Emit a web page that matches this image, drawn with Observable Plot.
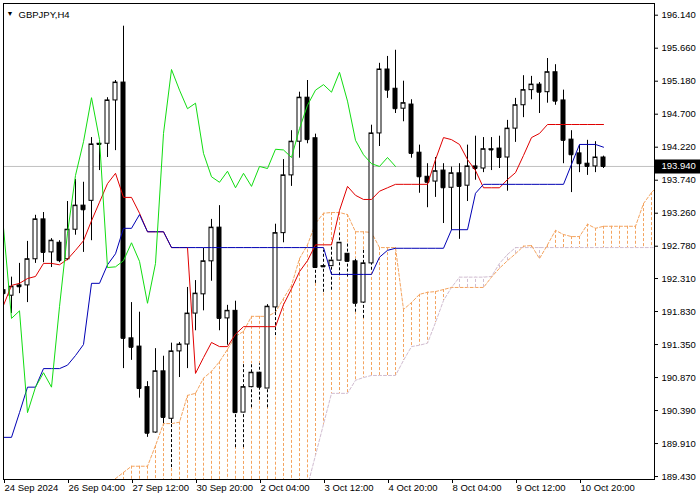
<!DOCTYPE html>
<html><head><meta charset="utf-8">
<script src="https://cdn.jsdelivr.net/npm/d3@7"></script>
<script src="https://cdn.jsdelivr.net/npm/@observablehq/plot@0.6"></script>
<style>
body{margin:0;background:#fff;}
#chart{width:700px;height:500px;}
</style></head><body><div id="chart"></div><script>
// ---- data (GBPJPY H4) ----
const opens = [192.14,192.06,192.21,192.21,192.59,193.17,192.69,192.83,192.59,193.02,
193.37,193.44,194.27,194.27,194.90,195.16,191.44,191.32,190.73,190.07,
190.96,190.27,191.25,191.35,191.80,192.08,192.56,193.05,191.73,191.84,
190.36,190.73,190.94,190.71,191.89,192.97,193.81,194.30,194.94,194.35,
192.49,192.49,192.57,192.67,192.56,191.96,192.53,194.42,195.35,195.07,
194.78,194.84,194.14,193.79,193.72,193.88,193.63,193.84,193.66,193.94,
193.91,194.19,194.20,194.07,194.49,194.83,195.05,195.13,195.02,195.31,
194.90,194.33,194.13,193.98,193.94,194.07];
const highs = [192.57,192.33,192.53,192.85,193.23,193.27,192.89,192.86,193.43,193.75,
193.71,194.36,194.29,194.94,195.19,195.98,191.96,191.82,190.81,191.29,
191.18,191.37,191.38,192.18,192.28,192.75,193.17,193.37,191.92,191.98,
191.07,191.07,191.07,191.93,193.10,194.04,194.46,195.02,195.19,194.41,
192.72,192.79,192.97,192.82,192.60,192.72,194.54,195.44,195.54,195.63,
195.18,194.91,194.25,193.98,194.07,193.98,193.93,193.98,194.25,194.38,
194.36,194.36,194.38,194.61,194.93,195.26,195.25,195.16,195.51,195.42,
195.05,194.46,194.25,194.32,194.30,194.09];
const lows = [191.84,191.80,192.09,191.96,192.53,192.54,192.47,192.54,192.57,192.94,
192.69,192.86,193.88,194.07,194.17,191.00,191.12,190.57,190.00,190.06,
190.20,189.56,190.87,191.00,191.55,191.84,192.27,191.55,191.34,189.85,
189.85,190.43,190.54,190.43,191.48,192.83,193.65,194.06,194.27,192.24,
192.11,192.14,192.35,192.33,191.82,191.73,192.43,194.23,194.93,194.71,
194.59,194.06,193.55,193.34,193.49,193.11,193.01,192.88,193.43,193.74,
193.85,193.88,193.91,193.58,194.29,194.65,194.91,194.71,194.86,194.83,
193.98,193.56,193.85,193.81,193.85,193.91];
const closes = [192.09,192.19,192.19,192.59,193.17,192.69,192.86,192.57,193.02,193.37,
193.31,194.26,194.26,194.90,195.16,191.44,191.31,190.71,190.06,190.96,
190.29,191.25,191.35,191.80,192.09,192.56,193.05,191.73,191.84,190.36,
190.73,190.94,190.73,191.90,192.97,193.81,194.30,194.94,194.33,192.47,
192.48,192.57,192.83,192.56,191.95,192.53,194.42,195.35,195.05,194.78,
194.86,194.13,193.79,193.71,193.87,193.63,193.84,193.65,193.94,193.91,
194.19,194.18,194.07,194.49,194.83,195.05,195.13,195.02,195.31,194.89,
194.32,194.11,193.98,193.94,194.07,193.94];
// Ichimoku lines
const tenkan = [191.92,192.21,192.24,192.31,192.34,192.53,192.53,192.51,192.59,192.72,
192.86,193.15,193.42,193.69,193.84,193.49,193.49,193.26,192.99,192.99,
192.99,192.76,192.76,192.76,190.93,191.16,191.38,191.32,191.32,191.50,
191.61,191.61,191.61,191.61,191.61,191.93,192.16,192.41,192.57,192.80,
192.80,192.80,193.30,193.65,193.52,193.46,193.46,193.58,193.63,193.68,
193.68,193.68,193.68,193.68,194.04,194.36,194.33,194.26,194.04,193.88,
193.63,193.63,193.63,193.75,193.85,194.10,194.36,194.42,194.55,194.55,
194.55,194.55,194.55,194.55,194.55,194.55];
const kijun = [190.00,190.00,190.36,190.73,190.73,191.00,191.00,191.00,191.05,191.19,
191.35,192.24,192.24,192.51,192.67,193.04,193.04,193.24,192.99,192.99,
192.99,192.76,192.76,192.76,192.76,192.76,192.76,192.76,192.76,192.76,
192.76,192.76,192.76,192.76,192.76,192.76,192.76,192.76,192.76,192.76,
192.76,192.37,192.37,192.37,192.37,192.37,192.37,192.62,192.72,192.75,
192.75,192.75,192.75,192.75,192.75,192.75,193.02,193.02,193.02,193.55,
193.68,193.68,193.68,193.68,193.68,193.68,193.68,193.68,193.68,193.68,
193.68,193.97,194.26,194.26,194.26,194.22];
const cloudStart = 14; // first bar index of the cloud arrays
const spanA = [189.40,189.49,189.58,189.58,189.58,189.88,190.20,190.20,190.22,190.61,
190.64,190.86,190.96,191.10,191.28,191.47,191.54,191.76,191.76,191.76,
191.82,192.02,192.21,192.60,192.80,193.11,193.26,193.27,193.27,193.24,
192.99,192.99,192.98,192.76,192.76,192.76,191.86,191.96,192.08,192.11,
192.12,192.15,192.18,192.18,192.18,192.18,192.18,192.33,192.46,192.57,
192.67,192.78,192.79,192.60,192.80,193.01,192.95,192.92,192.92,193.10,
193.04,193.07,193.07,193.07,193.07,193.07,193.40,193.56,193.68];
const spanB = [189.20,189.20,189.20,189.20,189.20,189.20,189.20,189.20,189.20,189.20,
189.20,189.20,189.20,189.20,189.20,189.20,189.20,189.20,189.20,189.20,
189.20,189.20,189.20,189.20,189.29,189.74,190.19,190.64,190.64,190.64,
190.83,190.87,190.90,190.90,190.90,190.90,191.12,191.32,191.34,191.37,
191.67,191.99,192.18,192.33,192.33,192.33,192.33,192.34,192.53,192.66,
192.76,192.76,192.76,192.76,192.76,192.76,192.76,192.76,192.76,192.76,
192.76,192.76,192.76,192.76,192.76,192.76,192.76,192.76,192.76];
const chikouShift = 26;
const yTicks = [196.14,195.66,195.18,194.70,194.22,193.74,193.26,192.78,192.31,191.83,191.35,190.87,190.39,189.91,189.43];
const xTickBars = [0,8,16,24,32,40,48,56,64,72];
const xTickLabels = ["24 Sep 2024","26 Sep 04:00","27 Sep 12:00","30 Sep 20:00","2 Oct 04:00","3 Oct 12:00","4 Oct 20:00","8 Oct 04:00","9 Oct 12:00","10 Oct 20:00"];
const title = "GBPJPY,H4";

// ---- build tables ----
const bars = opens.map((o, i) => ({i, o, h: highs[i], l: lows[i], c: closes[i]}));
const cloud = spanA.map((a, k) => ({i: k + cloudStart, a, b: spanB[k]}));
const cloudUp = cloud.filter(d => d.a >= d.b);
const cloudDown = cloud.filter(d => d.a < d.b);
const cloudByBar = new Map(cloud.map(d => [d.i, d]));
const lineT = tenkan.map((v, i) => ({i, v}));
const lineK = kijun.map((v, i) => ({i, v}));
const lineC = closes.slice(chikouShift).map((v, k) => ({i: k, v}));
const wickSolid = [], wickDashed = [];
for (const d of bars) {
  const cl = cloudByBar.get(d.i);
  if (!cl) { wickSolid.push({i: d.i, y1: d.l, y2: d.h}); continue; }
  const lo = Math.min(cl.a, cl.b), hi = Math.max(cl.a, cl.b);
  const a = Math.max(d.l, lo), b = Math.min(d.h, hi);
  if (a >= b) { wickSolid.push({i: d.i, y1: d.l, y2: d.h}); continue; }
  if (d.l < a) wickSolid.push({i: d.i, y1: d.l, y2: a});
  wickDashed.push({i: d.i, y1: a, y2: b});
  if (b < d.h) wickSolid.push({i: d.i, y1: b, y2: d.h});
}
const bulls = bars.filter(d => d.c > d.o);
const bears = bars.filter(d => d.c <= d.o);
const last = closes[closes.length - 1];
const PX_PER_BAR = 8, PLOT_W = 651, RIGHT_M = 46;
const xMax = PLOT_W / PX_PER_BAR;
const fmt3 = d3.format(".3f");
const font = "'Liberation Sans', Arial, sans-serif";
const SANDY = "#f4a460", THISTLE = "#d0bcd0";

const chart = Plot.plot({
  width: 700, height: 500,
  marginLeft: 3, marginRight: RIGHT_M, marginTop: 3, marginBottom: 21,
  x: {domain: [0, xMax], axis: null},
  y: {domain: [189.387, 196.310], axis: null},
  style: {fontFamily: font, fontSize: "9.5px", background: "white", color: "black", overflow: "visible"},
  marks: [
    // cloud hatch
    Plot.ruleX(cloudUp, {x: "i", y1: "a", y2: "b", stroke: SANDY, strokeWidth: 1, strokeDasharray: "3,2", clip: true}),
    Plot.ruleX(cloudDown, {x: "i", y1: "a", y2: "b", stroke: THISTLE, strokeWidth: 1, strokeDasharray: "3,2", clip: true}),
    Plot.line(cloud, {x: "i", y: "b", stroke: THISTLE, strokeWidth: 1, strokeDasharray: "3,2", clip: true}),
    Plot.line(cloud, {x: "i", y: "a", stroke: SANDY, strokeWidth: 1, strokeDasharray: "3,2", clip: true}),
    // current price line
    Plot.ruleY([last], {stroke: "#c0c0c0", strokeWidth: 1}),
    // wicks
    Plot.ruleX(wickSolid, {x: "i", y1: "y1", y2: "y2", stroke: "black", strokeWidth: 1, clip: true}),
    Plot.ruleX(wickDashed, {x: "i", y1: "y1", y2: "y2", stroke: "white", strokeWidth: 1, clip: true}),
    Plot.ruleX(wickDashed, {x: "i", y1: "y1", y2: "y2", stroke: "black", strokeWidth: 1, strokeDasharray: "3,2", clip: true}),
    // bodies
    Plot.rect(bulls, {x1: d => d.i - 0.25, x2: d => d.i + 0.25, y1: "o", y2: "c", fill: "white", stroke: "black", strokeWidth: 1, clip: true}),
    Plot.rect(bears, {x1: d => d.i - 0.25, x2: d => d.i + 0.25, y1: "o", y2: "c", fill: "black", stroke: "black", strokeWidth: 1, clip: true}),
    Plot.ruleY(bars, {y: "c", x1: d => d.i - 0.25, x2: d => d.i + 0.25, stroke: "black", strokeWidth: 1, clip: true}),
    // ichimoku lines
    Plot.line(lineT, {x: "i", y: "v", stroke: "#e00000", strokeWidth: 1, clip: true}),
    Plot.line(lineK, {x: "i", y: "v", stroke: "#0000b4", strokeWidth: 1, clip: true}),
    Plot.line(lineC, {x: "i", y: "v", stroke: "#11dd11", strokeWidth: 1, clip: true}),
    Plot.frame({stroke: "black", strokeWidth: 1}),
    // axes
    Plot.axisY({ticks: yTicks, anchor: "right", tickFormat: fmt3, tickSize: 3, tickPadding: 4, label: null, fontSize: 9.5}),
    Plot.axisX({ticks: xTickBars, anchor: "bottom", tickFormat: d => xTickLabels[xTickBars.indexOf(d)], tickSize: 4, tickPadding: 1, textAnchor: "start", dx: 1, label: null, fontSize: 9.5}),
    // current price label
    Plot.ruleY([last], {x1: xMax, x2: xMax + RIGHT_M / PX_PER_BAR, stroke: "black", strokeWidth: 14}),
    Plot.text([last], {x: xMax, y: d => d, text: d => fmt3(d), textAnchor: "start", dx: 7, fill: "white", fontSize: 9.5}),
    // title
    Plot.text(["\u25BC"], {frameAnchor: "top-left", dx: 6.5, dy: 8, fontSize: 7, textAnchor: "middle"}),
    Plot.text([title], {frameAnchor: "top-left", dx: 15, dy: 8, fontSize: 9.5, textAnchor: "start"})
  ]
});
document.getElementById("chart").appendChild(chart);
</script></body></html>
